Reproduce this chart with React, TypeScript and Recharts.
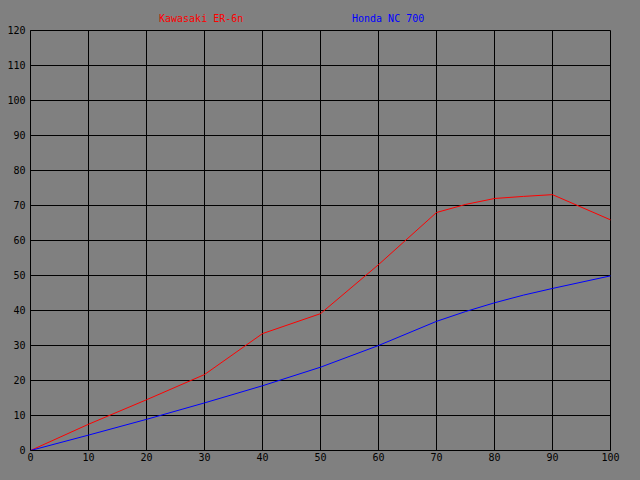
import { CartesianGrid, Legend, Line, LineChart, XAxis, YAxis } from "recharts";

const speeds = [0, 10, 20, 30, 40, 50, 60, 70, 75, 80, 85, 90, 100];
const kawasaki = [0, 7.5, 14.5, 21.7, 33.4, 39.1, 53.1, 68, 70.3, 72, 72.6, 73.1, 65.9];
const honda = [0, 4.4, 8.9, 13.6, 18.5, 23.8, 30, 36.9, 39.7, 42.2, 44.4, 46.3, 49.9];
const xTicks = [0, 10, 20, 30, 40, 50, 60, 70, 80, 90, 100];
const yTicks = [0, 10, 20, 30, 40, 50, 60, 70, 80, 90, 100, 110, 120];

const data = speeds.map((x, i) => ({ x, kawasaki: kawasaki[i], honda: honda[i] }));

const font = { fontFamily: "DejaVu Sans Mono", fontSize: 10, fill: "#000" };

function LegendRow() {
  return (
    <div style={{ position: "relative", width: 640, height: 12, fontFamily: "DejaVu Sans Mono", fontSize: 10, lineHeight: "12px" }}>
      <span style={{ position: "absolute", left: 159, color: "#ff0000" }}>Kawasaki ER-6n</span>
      <span style={{ position: "absolute", left: 352, color: "#0000ff" }}>Honda NC 700</span>
    </div>
  );
}

export default function App() {
  return (
    <div style={{ position: "absolute", left: 0, top: 0, width: 640, height: 480, background: "#808080" }}>
      <LineChart
        width={640}
        height={480}
        data={data}
        margin={{ top: 30.5, right: 29.5, left: 0.5, bottom: -0.5 }}
      >
        <CartesianGrid stroke="#000" strokeWidth={1} />
        <XAxis
          dataKey="x"
          type="number"
          domain={[0, 100]}
          ticks={xTicks}
          height={30}
          tickLine={false}
          tickSize={0}
          tickMargin={3}
          axisLine={{ stroke: "#000" }}
          tick={font}
        />
        <YAxis
          type="number"
          domain={[0, 120]}
          ticks={yTicks}
          width={30}
          tickLine={false}
          tickSize={0}
          tickMargin={5}
          axisLine={{ stroke: "#000" }}
          tick={font}
        />
        <Legend
          verticalAlign="middle"
          layout="horizontal"
          wrapperStyle={{ top: 13, left: 0, width: 640 }}
          content={() => <LegendRow />}
        />
        <Line dataKey="kawasaki" type="linear" stroke="#ff0000" strokeWidth={1} dot={false} isAnimationActive={false} />
        <Line dataKey="honda" type="linear" stroke="#0000ff" strokeWidth={1} dot={false} isAnimationActive={false} />
      </LineChart>
    </div>
  );
}
